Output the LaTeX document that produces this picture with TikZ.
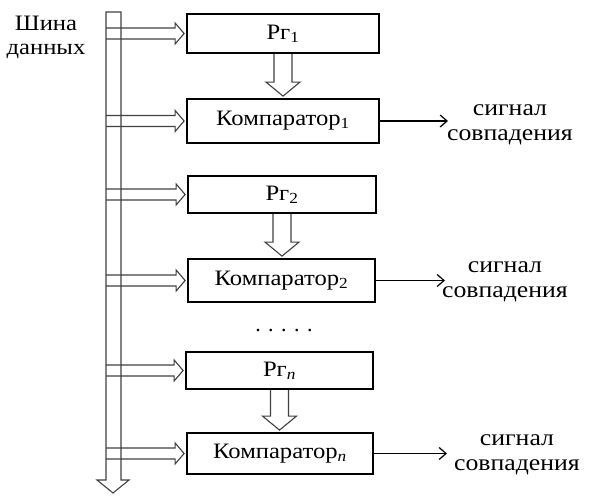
\documentclass[tikz,border=0pt]{standalone}
\usepackage{fontspec}
\setmainfont{Liberation Serif}
\newcommand\strX[1]{\scalebox{1.12}[1]{#1}}
\usetikzlibrary{calc,arrows.meta}
\begin{document}
\begin{tikzpicture}[x=1pt,y=-1pt,
  box/.style={draw=black, line width=1.8pt, inner sep=0pt, font=\fontsize{22}{26}\selectfont},
  blk/.style={draw=black!75, line width=1.1pt, line join=miter},
  sig/.style={draw=black, line width=1.2pt, -{Straight Barb[length=7pt,width=12pt,line width=1.2pt]}},
  lbl/.style={align=center, inner sep=0pt, font=\fontsize{23}{25}\selectfont}]
\useasboundingbox (0,0) rectangle (593,502);
% boxes
\node[box, minimum width=192pt, minimum height=39pt] (p1) at (283,33.5) {\strX{Рг\textsubscript{1}}};
\node[box, minimum width=192pt, minimum height=44pt] (c1) at (283,121) {\strX{Компаратор\textsubscript{1}}};
\node[box, minimum width=188pt, minimum height=37pt] (p2) at (282,194.5) {\strX{Рг\textsubscript{2}}};
\node[box, minimum width=187pt, minimum height=43pt] (c2) at (281.5,280.5) {\strX{Компаратор\textsubscript{2}}};
\node[box, minimum width=187pt, minimum height=37pt] (pn) at (279.5,370.5) {\strX{Рг\textsubscript{\textit{n}}}};
\node[box, minimum width=186pt, minimum height=41pt] (cn) at (280,453.5) {\strX{Компаратор\textsubscript{\textit{n}}}};
% bus
\coordinate (busL) at (106,0);
\draw[blk] (106,12) -- (121,12) -- (121,480) -- (129,480) -- (113,493) -- (97,480) -- (106,480) -- cycle;
\node[lbl, font=\fontsize{22}{24}\selectfont] (bus) at (46,37) {\strX{Шина}\\\strX{данных}};
% horizontal block arrows from bus
\foreach \bx in {p1,c1,p2,c2,pn,cn}{
  \draw[blk] let \p1=(\bx.west), \p2=(busL) in
    (\x2,\y1+5.5pt) -- (\x1-11pt,\y1+5.5pt) -- (\x1-11pt,\y1+10.5pt) -- (\x1-2pt,\y1)
    -- (\x1-11pt,\y1-10.5pt) -- (\x1-11pt,\y1-5.5pt) -- (\x2,\y1-5.5pt);
}
% vertical block arrows
\foreach \ba/\bb in {p1/c1,p2/c2,pn/cn}{
  \draw[blk] let \p1=(\ba.south), \p2=(\bb.north) in
    (\x1-9pt,\y1) -- (\x1-9pt,\y2+16pt) -- (\x1-17pt,\y2+16pt) -- (\x1,\y2+2pt)
    -- (\x1+17pt,\y2+16pt) -- (\x1+9pt,\y2+16pt) -- (\x1+9pt,\y1);
}
% dots
\node[anchor=base, inner sep=0pt, font=\fontsize{22}{24}\selectfont] (dots) at (284,331)
  {.\hspace{7.5pt}.\hspace{7.5pt}.\hspace{7.5pt}.\hspace{7.5pt}.};
% outputs
\coordinate (e1) at (448,0);
\coordinate (e2) at (445,0);
\coordinate (en) at (447,0);
\draw[sig] (c1.east) -- (c1.east -| e1);
\draw[sig] (c2.east) -- (c2.east -| e2);
\draw[sig] (cn.east) -- (cn.east -| en);
\node[lbl] (s1) at (510,124.5) {\strX{сигнал}\\\strX{совпадения}};
\node[lbl] (s2) at (505,282) {\strX{сигнал}\\\strX{совпадения}};
\node[lbl] (sn) at (517,454.5) {\strX{сигнал}\\\strX{совпадения}};
\end{tikzpicture}
\end{document}
